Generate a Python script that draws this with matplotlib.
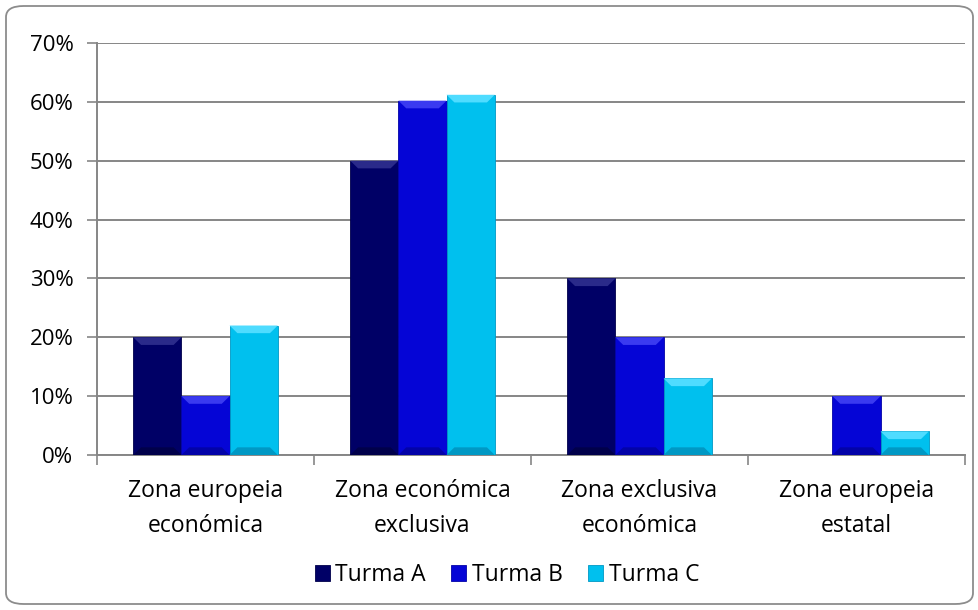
import numpy as np
import matplotlib.pyplot as plt
from matplotlib.patches import FancyBboxPatch, Polygon
from matplotlib.ticker import PercentFormatter

plt.rcParams["font.family"] = ["Open Sans", "DejaVu Sans"]

# data
categories = ["Zona europeia\neconómica", "Zona económica\nexclusiva",
              "Zona exclusiva\neconómica", "Zona europeia\nestatal"]
turma_a = [20, 50, 30, 0]
turma_b = [10, 60.2, 20, 10]
turma_c = [22, 61.2, 13, 4]
series = ["Turma A", "Turma B", "Turma C"]
colors = ["#000066", "#0505D6", "#00C0EE"]
lights = ["#2A2A8A", "#3A3AF0", "#4FDCFF"]
darks = ["#00004A", "#0303A8", "#0098C4"]

fig = plt.figure(figsize=(9.79, 6.10), dpi=100)

# rounded outer border
border = FancyBboxPatch((6 / 979, 6 / 610), 967 / 979, 598 / 610,
                        boxstyle="round,pad=0,rounding_size=0.018",
                        transform=fig.transFigure, fill=False,
                        edgecolor="#8C8C8C", linewidth=1.3)
fig.patches.append(border)

ax = fig.add_axes([97 / 979, 155 / 610, 868 / 979, 412 / 610])

x = np.arange(len(categories))
w = 0.222
dx, dy = 0.036, 1.3  # bevel size
for i, vals in enumerate([turma_a, turma_b, turma_c]):
    bars = ax.bar(x + (i - 1) * w, vals, width=w, color=colors[i],
                  edgecolor=darks[i], linewidth=0.6, label=series[i], zorder=3)
    # simple bevel look: lighter top, darker bottom
    for r in bars:
        x0, h, bw = r.get_x(), r.get_height(), r.get_width()
        if h <= 0:
            continue
        d = min(dy, h / 3)
        ax.add_patch(Polygon([(x0, h), (x0 + bw, h), (x0 + bw - dx, h - d), (x0 + dx, h - d)],
                             closed=True, color=lights[i], lw=0, zorder=4))
        ax.add_patch(Polygon([(x0, 0), (x0 + bw, 0), (x0 + bw - dx, d), (x0 + dx, d)],
                             closed=True, color=darks[i], lw=0, zorder=4))

ax.set_xlim(-0.5, len(categories) - 0.5)
ax.set_ylim(0, 70)
ax.set_yticks(np.arange(0, 71, 10))
ax.yaxis.set_major_formatter(PercentFormatter(decimals=0))
ax.grid(axis="y", color="#868686", linewidth=1.4, zorder=0)

ax.set_xticks(x)
ax.set_xticklabels(categories, fontsize=16.5, linespacing=1.62)
ax.set_xticks(np.arange(-0.5, len(categories)), minor=True)
ax.tick_params(axis="x", which="major", length=0, pad=17)
ax.tick_params(axis="x", which="minor", length=7, color="#868686", width=1.2)
ax.tick_params(axis="y", length=7, color="#868686", width=1.2, pad=10, labelsize=16)

for s in ["top", "right"]:
    ax.spines[s].set_visible(False)
for s in ["left", "bottom"]:
    ax.spines[s].set_color("#868686")
    ax.spines[s].set_linewidth(1.4)

fig.legend(loc="center", bbox_to_anchor=(507 / 979, 1 - 575 / 610), ncol=3,
           frameon=False, fontsize=16.5, handlelength=0.65, handleheight=0.65,
           handletextpad=0.25, columnspacing=1.1)

fig.savefig("out.png", dpi=100)
